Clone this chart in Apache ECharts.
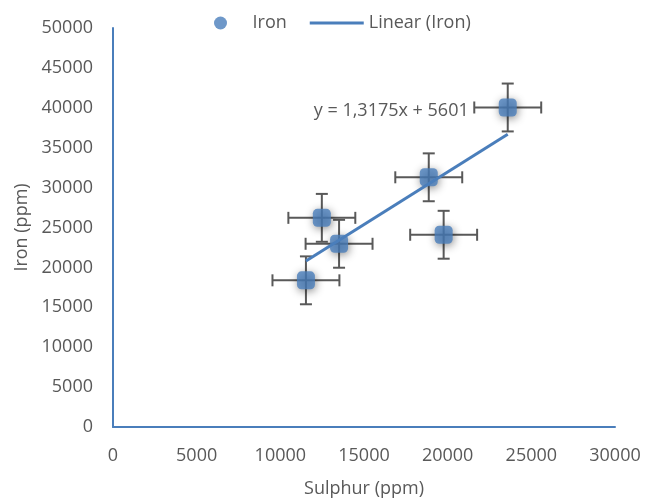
<!DOCTYPE html>
<html>
<head>
<meta charset="utf-8">
<script src="https://cdn.jsdelivr.net/npm/echarts@6/dist/echarts.min.js"></script>
<style>html,body{margin:0;padding:0;background:#fff}#c{width:646px;height:500px}</style>
</head>
<body>
<div id="c"></div>
<script>
// Data
const sulphur = [11530, 12480, 13510, 18870, 19760, 23590];
const iron    = [18380, 26210, 22960, 31290, 24090, 40040];
const sulphurErr = [2000, 2000, 2000, 2000, 2000, 2000];
const ironErr    = [3000, 3000, 3000, 3000, 3000, 3000];
const trendSlope = 1.3175;
const trendIntercept = 5601;
const trendLabel = 'y = 1,3175x + 5601';
const xTicks = [0, 5000, 10000, 15000, 20000, 25000, 30000];
const yTicks = [0, 5000, 10000, 15000, 20000, 25000, 30000, 35000, 40000, 45000, 50000];

const FONT = '"Open Sans", sans-serif';
const TXT = '#595959';
const BLUE = '#4a7ebb';

const points = sulphur.map((x, i) => [x, iron[i]]);
const errData = sulphur.map((x, i) => [x, iron[i], sulphurErr[i], ironErr[i]]);
const xMin = Math.min(...sulphur), xMax = Math.max(...sulphur);
const trend = [[xMin, trendSlope * xMin + trendIntercept], [xMax, trendSlope * xMax + trendIntercept]];

const chart = echarts.init(document.getElementById('c'), null, {renderer: 'canvas'});
const cap = 6;
chart.setOption({
  animation: false,
  textStyle: {fontFamily: FONT},
  legend: {
    data: [
      {name: 'Iron', icon: 'circle'},
      {name: 'Linear (Iron)', icon: 'path://M0,0 L54,0 L54,3 L0,3 Z'}
    ],
    left: 209, top: 9,
    itemWidth: 54, itemHeight: 13, itemGap: 23,
    textStyle: {fontFamily: FONT, fontSize: 18, color: TXT}
  },
  grid: {left: 113, right: 31, top: 28, bottom: 73, containLabel: false, outerBoundsMode: 'none'},
  xAxis: {
    type: 'value', min: 0, max: 30000, interval: 5000,
    name: 'Sulphur (ppm)', nameLocation: 'middle', nameGap: 53,
    nameTextStyle: {fontFamily: FONT, fontSize: 18, color: TXT},
    axisLine: {show: true, onZero: false, lineStyle: {color: BLUE, width: 2}},
    axisTick: {show: false}, splitLine: {show: false},
    axisLabel: {fontFamily: FONT, fontSize: 18, color: TXT, margin: 20,
      formatter: v => xTicks.includes(v) ? String(v) : ''}
  },
  yAxis: {
    type: 'value', min: 0, max: 50000, interval: 5000,
    name: 'Iron (ppm)', nameLocation: 'middle', nameGap: 80,
    nameTextStyle: {fontFamily: FONT, fontSize: 18, color: TXT},
    axisLine: {show: true, onZero: false, lineStyle: {color: BLUE, width: 2}},
    axisTick: {show: false}, splitLine: {show: false},
    axisLabel: {fontFamily: FONT, fontSize: 18, color: TXT, margin: 20,
      formatter: v => yTicks.includes(v) ? String(v) : ''}
  },
  series: [
    {
      type: 'custom', name: 'errors', z: 1, silent: true,
      data: errData,
      renderItem: function (params, api) {
        const x = api.value(0), y = api.value(1), ex = api.value(2), ey = api.value(3);
        const l = api.coord([x - ex, y]), r = api.coord([x + ex, y]);
        const t = api.coord([x, y + ey]), b = api.coord([x, y - ey]);
        const style = {stroke: '#595959', lineWidth: 2};
        const line = (x1, y1, x2, y2) => ({type: 'line', shape: {x1, y1, x2, y2}, style});
        return {type: 'group', children: [
          line(l[0], l[1], r[0], r[1]),
          line(l[0], l[1] - cap, l[0], l[1] + cap),
          line(r[0], r[1] - cap, r[0], r[1] + cap),
          line(t[0], t[1], b[0], b[1]),
          line(t[0] - cap, t[1], t[0] + cap, t[1]),
          line(b[0] - cap, b[1], b[0] + cap, b[1])
        ]};
      }
    },
    {
      type: 'scatter', name: 'Iron', z: 2,
      data: points,
      symbol: 'roundRect', symbolSize: 18,
      itemStyle: {color: BLUE, shadowBlur: 8, shadowColor: 'rgba(0,0,0,0.55)', shadowOffsetX: 1, shadowOffsetY: 2}
    },
    {
      type: 'line', name: 'Linear (Iron)', z: 3,
      data: [
        trend[0],
        {value: trend[1], label: {show: true, formatter: trendLabel, position: 'left', distance: 0,
          offset: [-39, -23], fontFamily: FONT, fontSize: 18, color: TXT}}
      ],
      symbol: 'circle', symbolSize: 0, showSymbol: true,
      lineStyle: {color: BLUE, width: 3},
      itemStyle: {color: BLUE}
    }
  ]
});
</script>
</body>
</html>
